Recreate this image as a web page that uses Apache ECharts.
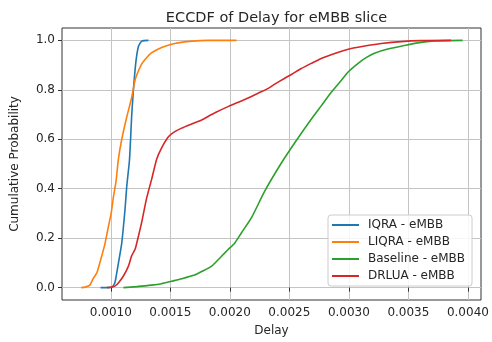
<!DOCTYPE html>
<html>
<head>
<meta charset="utf-8">
<script src="https://cdn.jsdelivr.net/npm/echarts@6/dist/echarts.min.js"></script>
<style>
  html, body { margin: 0; padding: 0; background: #fff; }
  #chart { width: 492px; height: 342px; }
</style>
</head>
<body>
<div id="chart"></div>
<script>
// Empirical distribution of eMBB delay per scheme (delay in seconds, cumulative probability)
const iqraDelay = [0.000914, 0.00095, 0.001008, 0.001034, 0.00105, 0.001075, 0.001092, 0.00112, 0.001134, 0.001157, 0.001176, 0.00119, 0.00121, 0.001232, 0.00126, 0.001316];
const iqraProb  = [0.0, 0.0, 0.002, 0.02, 0.06, 0.13, 0.18, 0.32, 0.41, 0.517, 0.70, 0.80, 0.91, 0.975, 0.997, 1.0];

const liqraDelay = [0.000751, 0.000785, 0.000824, 0.00085, 0.000883, 0.000925, 0.000952, 0.000981, 0.001003, 0.001023, 0.001044, 0.001063, 0.001092, 0.001134, 0.001176, 0.001204, 0.001235, 0.00126, 0.0013, 0.001344, 0.0014, 0.001469, 0.001536, 0.00162, 0.00172, 0.00182, 0.002056];
const liqraProb  = [0.0, 0.002, 0.01, 0.035, 0.06, 0.13, 0.18, 0.25, 0.30, 0.37, 0.43, 0.517, 0.60, 0.69, 0.77, 0.84, 0.88, 0.905, 0.93, 0.95, 0.965, 0.978, 0.987, 0.994, 0.998, 1.0, 1.0];

const baselineDelay = [0.001106, 0.001218, 0.001344, 0.001427, 0.001511, 0.001595, 0.001704, 0.001763, 0.001847, 0.00193, 0.001986, 0.002042, 0.002098, 0.002182, 0.002293, 0.002433, 0.002573, 0.002705, 0.002768, 0.002852, 0.002936, 0.002994, 0.003078, 0.003145, 0.003215, 0.003327, 0.003439, 0.003578, 0.003718, 0.003956];
const baselineProb  = [0.0, 0.004, 0.01, 0.016, 0.026, 0.036, 0.051, 0.065, 0.087, 0.127, 0.154, 0.181, 0.222, 0.283, 0.39, 0.504, 0.605, 0.695, 0.735, 0.79, 0.838, 0.872, 0.907, 0.93, 0.948, 0.965, 0.976, 0.99, 0.998, 1.0];

const drluaDelay = [0.000966, 0.001008, 0.001034, 0.001065, 0.001106, 0.001148, 0.001176, 0.001204, 0.001232, 0.001262, 0.0013, 0.001344, 0.001386, 0.001427, 0.001484, 0.001528, 0.001595, 0.00168, 0.001763, 0.00182, 0.001888, 0.001989, 0.002097, 0.002181, 0.00224, 0.002322, 0.002374, 0.002458, 0.002517, 0.0026, 0.002684, 0.002768, 0.002894, 0.003019, 0.003145, 0.003271, 0.003439, 0.003606, 0.003858];
const drluaProb  = [0.0, 0.002, 0.006, 0.02, 0.047, 0.087, 0.13, 0.155, 0.208, 0.27, 0.36, 0.44, 0.52, 0.565, 0.61, 0.628, 0.645, 0.662, 0.678, 0.693, 0.71, 0.733, 0.755, 0.773, 0.787, 0.806, 0.822, 0.846, 0.862, 0.886, 0.907, 0.927, 0.949, 0.967, 0.978, 0.987, 0.995, 0.999, 1.0];

const seriesNames = ['IQRA - eMBB', 'LIQRA - eMBB', 'Baseline - eMBB', 'DRLUA - eMBB'];
const seriesColors = ['#1f77b4', '#ff7f0e', '#2ca02c', '#d62728'];

const xTicks = [0.0010, 0.0015, 0.0020, 0.0025, 0.0030, 0.0035, 0.0040];
const yTicks = [0.0, 0.2, 0.4, 0.6, 0.8, 1.0];

const FONT = 'DejaVu Sans';
const TEXT = '#262626';

function zip(xs, ys) { return xs.map((x, i) => [x, ys[i]]); }

const curves = [
  zip(iqraDelay, iqraProb),
  zip(liqraDelay, liqraProb),
  zip(baselineDelay, baselineProb),
  zip(drluaDelay, drluaProb)
];

const chart = echarts.init(document.getElementById('chart'), null, { renderer: 'canvas' });

chart.setOption({
  animation: false,
  backgroundColor: '#ffffff',
  textStyle: { fontFamily: FONT, color: TEXT },
  title: {
    text: 'ECCDF of Delay for eMBB slice',
    left: 271.5,
    textAlign: 'center',
    top: 6,
    textStyle: { fontFamily: FONT, fontSize: 14.5, fontWeight: 'normal', color: TEXT }
  },
  grid: {
    left: 62, right: 11, top: 28, bottom: 41,
    show: true, borderColor: '#333333', borderWidth: 1, backgroundColor: 'transparent'
  },
  legend: {
    orient: 'vertical',
    left: 328, top: 215,
    padding: [4, 7, 4, 4],
    itemGap: 5,
    itemWidth: 27, itemHeight: 2,
    icon: 'rect',
    backgroundColor: 'rgba(255,255,255,0.85)',
    borderColor: '#cccccc', borderWidth: 1, borderRadius: 3,
    textStyle: { fontFamily: FONT, fontSize: 12, color: TEXT, padding: [0, 0, 0, 4] },
    data: seriesNames
  },
  xAxis: {
    type: 'value',
    min: 0.00059, max: 0.00411,
    name: 'Delay',
    nameLocation: 'middle',
    nameGap: 25,
    nameTextStyle: { fontFamily: FONT, fontSize: 12, color: TEXT },
    axisLine: { show: false },
    axisTick: { show: true, inside: false, length: 4, customValues: xTicks, lineStyle: { color: '#333333' } },
    axisLabel: { customValues: xTicks, margin: 7, fontFamily: FONT, fontSize: 12, color: TEXT, formatter: v => v.toFixed(4) },
    splitLine: { show: true, lineStyle: { color: '#c4c4c4', width: 1 } }
  },
  yAxis: {
    type: 'value',
    min: -0.05, max: 1.05,
    name: 'Cumulative Probability',
    nameLocation: 'middle',
    nameGap: 41,
    nameTextStyle: { fontFamily: FONT, fontSize: 12, color: TEXT },
    axisLine: { show: false },
    axisTick: { show: true, inside: false, length: 4, customValues: yTicks, lineStyle: { color: '#333333' } },
    axisLabel: { customValues: yTicks, margin: 7, fontFamily: FONT, fontSize: 12, color: TEXT, formatter: v => v.toFixed(1) },
    splitLine: { show: true, lineStyle: { color: '#c4c4c4', width: 1 } }
  },
  series: curves.map((data, i) => ({
    name: seriesNames[i],
    type: 'line',
    data: data,
    showSymbol: false,
    symbol: 'none',
    smooth: 0.2,
    color: seriesColors[i],
    lineStyle: { width: 1.6, color: seriesColors[i] },
    z: 2 + i
  }))
});
</script>
</body>
</html>
